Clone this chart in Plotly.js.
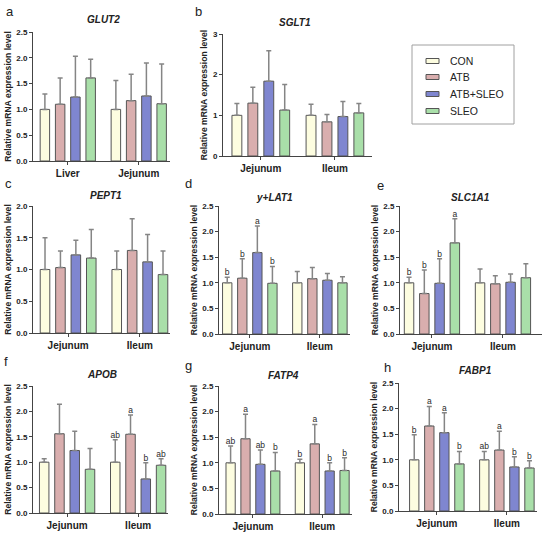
<!DOCTYPE html>
<html><head><meta charset="utf-8">
<script src="https://cdn.plot.ly/plotly-3.0.1.min.js"></script>
<style>body{margin:0;background:#fff}#chart{width:550px;height:533px}</style>
</head><body><div id="chart"></div>
<script>
// ---------- DATA ----------
const seriesNames = ['CON', 'ATB', 'ATB+SLEO', 'SLEO'];
const seriesColors = ['#fdfde0', '#d9aeae', '#7f86d0', '#a9dfa9'];

// rows = series (CON, ATB, ATB+SLEO, SLEO); columns = tissue groups
const GLUT2_groups = ['Liver', 'Jejunum'];
const GLUT2_mean = [[1.00, 1.00], [1.10, 1.17], [1.24, 1.26], [1.61, 1.11]];
const GLUT2_sd   = [[0.30, 0.56], [0.51, 0.51], [0.79, 0.64], [0.36, 0.77]];

const SGLT1_groups = ['Jejunum', 'Ileum'];
const SGLT1_mean = [[1.00, 1.00], [1.30, 0.84], [1.84, 0.97], [1.13, 1.06]];
const SGLT1_sd   = [[0.29, 0.27], [0.39, 0.18], [0.75, 0.37], [0.63, 0.23]];

const PEPT1_groups = ['Jejunum', 'Ileum'];
const PEPT1_mean = [[1.00, 1.00], [1.03, 1.30], [1.23, 1.12], [1.18, 0.92]];
const PEPT1_sd   = [[0.50, 0.29], [0.26, 0.50], [0.23, 0.43], [0.45, 0.37]];

const YLAT1_groups = ['Jejunum', 'Ileum'];
const YLAT1_mean = [[1.00, 1.00], [1.09, 1.08], [1.59, 1.05], [0.99, 1.00]];
const YLAT1_sd   = [[0.11, 0.22], [0.38, 0.22], [0.52, 0.13], [0.33, 0.12]];
const YLAT1_letters = [['b', ''], ['b', ''], ['a', ''], ['b', '']];

const SLC1A1_groups = ['Jejunum', 'Ileum'];
const SLC1A1_mean = [[1.00, 1.00], [0.79, 0.98], [0.99, 1.01], [1.78, 1.10]];
const SLC1A1_sd   = [[0.11, 0.27], [0.46, 0.16], [0.48, 0.16], [0.47, 0.27]];
const SLC1A1_letters = [['b', ''], ['b', ''], ['b', ''], ['a', '']];

const APOB_groups = ['Jejunum', 'Ileum'];
const APOB_mean = [[1.00, 1.00], [1.56, 1.55], [1.23, 0.67], [0.86, 0.94]];
const APOB_sd   = [[0.07, 0.44], [0.58, 0.38], [0.38, 0.32], [0.41, 0.13]];
const APOB_letters = [['', 'ab'], ['', 'a'], ['', 'b'], ['', 'ab']];

const FATP4_groups = ['Jejunum', 'Ileum'];
const FATP4_mean = [[1.00, 1.00], [1.47, 1.37], [0.97, 0.84], [0.84, 0.85]];
const FATP4_sd   = [[0.33, 0.07], [0.48, 0.38], [0.28, 0.16], [0.36, 0.25]];
const FATP4_letters = [['ab', 'b'], ['a', 'a'], ['ab', 'b'], ['b', 'b']];

const FABP1_groups = ['Jejunum', 'Ileum'];
const FABP1_mean = [[1.00, 1.00], [1.66, 1.19], [1.53, 0.86], [0.92, 0.84]];
const FABP1_sd   = [[0.49, 0.16], [0.38, 0.37], [0.39, 0.20], [0.24, 0.14]];
const FABP1_letters = [['b', 'ab'], ['a', 'a'], ['a', 'b'], ['b', 'b']];

// ---------- LAYOUT (pixel boxes) ----------
const W = 550, H = 533;
const FONT = 'Liberation Sans, Arial, sans-serif';
const panels = [
  {gene:'GLUT2',  g:GLUT2_groups,  m:GLUT2_mean,  s:GLUT2_sd,  l:null,
   px:[33,170], py:[32,161], xr:[-0.49,1.44], yr:[0,2.5], dt:0.5, tf:'.1f', tx:103, ty:20, lab:'a', lx:10, ly:12},
  {gene:'SGLT1',  g:SGLT1_groups,  m:SGLT1_mean,  s:SGLT1_sd,  l:null,
   px:[223,372], py:[34,156], xr:[-0.51,1.50], yr:[0,3], dt:1, tf:'d', tx:295, ty:22, lab:'b', lx:198, ly:12},
  {gene:'PEPT1',  g:PEPT1_groups,  m:PEPT1_mean,  s:PEPT1_sd,  l:null,
   px:[33,170], py:[206,333], xr:[-0.49,1.42], yr:[0,2.0], dt:0.5, tf:'.1f', tx:106, ty:195, lab:'c', lx:8, ly:183},
  {gene:'y+LAT1', g:YLAT1_groups,  m:YLAT1_mean,  s:YLAT1_sd,  l:YLAT1_letters,
   px:[219,350], py:[206,334], xr:[-0.44,1.43], yr:[0,2.5], dt:0.5, tf:'.1f', tx:274, ty:197, lab:'d', lx:188, ly:183},
  {gene:'SLC1A1', g:SLC1A1_groups, m:SLC1A1_mean, s:SLC1A1_sd, l:SLC1A1_letters,
   px:[400,542], py:[206,334], xr:[-0.45,1.55], yr:[0,2.5], dt:0.5, tf:'.1f', tx:470, ty:197, lab:'e', lx:380, ly:185},
  {gene:'APOB',   g:APOB_groups,   m:APOB_mean,   s:APOB_sd,   l:APOB_letters,
   px:[33,168], py:[386,513], xr:[-0.48,1.42], yr:[0,2.5], dt:0.5, tf:'.1f', tx:102, ty:374, lab:'f', lx:6, ly:362},
  {gene:'FATP4',  g:FATP4_groups,  m:FATP4_mean,  s:FATP4_sd,  l:FATP4_letters,
   px:[219,352], py:[386,514], xr:[-0.49,1.43], yr:[0,2.5], dt:0.5, tf:'.1f', tx:283, ty:375, lab:'g', lx:188, ly:365},
  {gene:'FABP1',  g:FABP1_groups,  m:FABP1_mean,  s:FABP1_sd,  l:FABP1_letters,
   px:[399,537], py:[383,511], xr:[-0.54,1.43], yr:[0,2.5], dt:0.5, tf:'.1f', tx:475, ty:370, lab:'h', lx:387, ly:367}
];

const traces = [];
const layout = {
  width: W, height: H,
  margin: {l:0, r:0, t:0, b:0},
  paper_bgcolor: '#ffffff', plot_bgcolor: '#ffffff',
  barmode: 'group', bargap: 0.14, bargroupgap: 0.38,
  scattermode: 'group', scattergap: 0.14,
  font: {family: FONT, color: '#222'},
  showlegend: false,
  annotations: [],
  shapes: [],
  hovermode: false
};

panels.forEach((p, i) => {
  const n = i === 0 ? '' : String(i + 1);
  const xa = 'x' + n, ya = 'y' + n;
  layout['xaxis' + n] = {
    domain: [p.px[0] / W, p.px[1] / W],
    anchor: ya, type: 'category', range: p.xr,
    showline: true, linecolor: '#444', linewidth: 1,
    ticks: 'outside', ticklen: 3, tickcolor: '#444', tickwidth: 1,
    tickfont: {family: FONT, size: 10, weight: 'bold', color: '#222'},
    showgrid: false, zeroline: false, fixedrange: true
  };
  layout['yaxis' + n] = {
    domain: [1 - p.py[1] / H, 1 - p.py[0] / H],
    anchor: xa, range: p.yr, dtick: p.dt, tick0: 0, tickformat: p.tf,
    showline: true, linecolor: '#444', linewidth: 1,
    ticks: 'outside', ticklen: 3, tickcolor: '#444', tickwidth: 1,
    tickfont: {family: FONT, size: 8, weight: 'bold', color: '#222'},
    showgrid: false, zeroline: false, fixedrange: true,
    title: {text: 'Relative mRNA expression level', standoff: 3,
            font: {family: FONT, size: 8.6, weight: 'bold', color: '#222'}}
  };
  seriesNames.forEach((name, k) => {
    traces.push({
      type: 'bar', name: name, x: p.g, y: p.m[k],
      xaxis: xa, yaxis: ya,
      marker: {color: seriesColors[k], line: {color: '#555555', width: 1}},
      error_y: {type: 'data', symmetric: false, array: p.s[k],
                arrayminus: p.s[k].map(() => 0),
                color: '#858585', thickness: 1.5, width: 2.5}
    });
  });
  if (p.l) {
    seriesNames.forEach((name, k) => {
      traces.push({
        type: 'scatter', mode: 'text', x: p.g,
        y: p.m[k].map((v, j) => v + p.s[k][j]),
        text: p.l[k], textposition: 'top center',
        textfont: {family: FONT, size: 8.5, color: '#2a2a2a'},
        xaxis: xa, yaxis: ya, cliponaxis: false,
        hoverinfo: 'skip'
      });
    });
  }
  layout.annotations.push({
    xref: 'paper', yref: 'paper', x: p.tx / W, y: 1 - p.ty / H,
    text: '<b><i>' + p.gene + '</i></b>', showarrow: false,
    xanchor: 'center', yanchor: 'middle',
    font: {family: FONT, size: 10, color: '#222'}
  });
  layout.annotations.push({
    xref: 'paper', yref: 'paper', x: p.lx / W, y: 1 - p.ly / H,
    text: p.lab, showarrow: false, xanchor: 'center', yanchor: 'middle',
    font: {family: FONT, size: 13, color: '#222'}
  });
});

// ---------- legend (box, swatches, labels) ----------
const legBox = {x0: 412, x1: 514, y0: 45, y1: 124};
const legRowY = [61, 77, 94, 111];
layout.shapes.push({type: 'rect', xref: 'paper', yref: 'paper',
  x0: legBox.x0 / W, x1: legBox.x1 / W, y0: 1 - legBox.y1 / H, y1: 1 - legBox.y0 / H,
  line: {color: '#a0a0a0', width: 1}, fillcolor: 'rgba(0,0,0,0)'});
seriesNames.forEach((name, k) => {
  const yc = legRowY[k];
  layout.shapes.push({type: 'rect', xref: 'paper', yref: 'paper',
    x0: 426 / W, x1: 439 / W, y0: 1 - (yc + 2.5) / H, y1: 1 - (yc - 2.5) / H,
    line: {color: '#555555', width: 1}, fillcolor: seriesColors[k]});
  layout.annotations.push({xref: 'paper', yref: 'paper', x: 448 / W, y: 1 - yc / H,
    text: name, showarrow: false, xanchor: 'left', yanchor: 'middle',
    font: {family: FONT, size: 10.5, color: '#222'}});
});

Plotly.newPlot('chart', traces, layout, {staticPlot: true, displayModeBar: false});
</script>
</body></html>
